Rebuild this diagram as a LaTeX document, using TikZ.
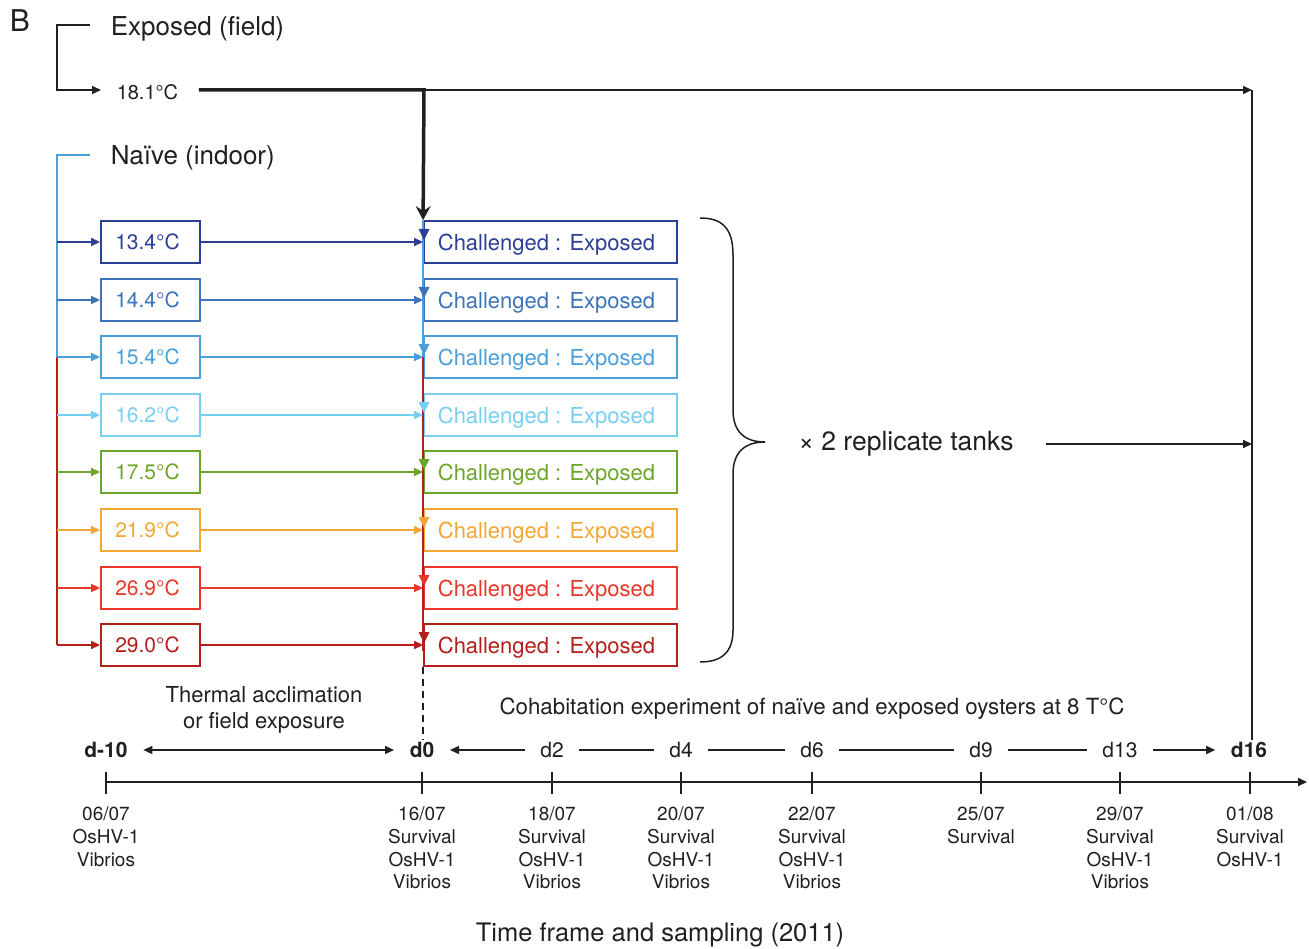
\documentclass[tikz,border=0pt]{standalone}
\usepackage{fontspec}
\setmainfont{TeX Gyre Heros}
\usetikzlibrary{arrows.meta}
\definecolor{cA}{RGB}{44,62,150}
\definecolor{cB}{RGB}{60,115,186}
\definecolor{cC}{RGB}{74,159,219}
\definecolor{cD}{RGB}{120,207,242}
\definecolor{cE}{RGB}{109,165,42}
\definecolor{cF}{RGB}{244,167,54}
\definecolor{cG}{RGB}{232,54,42}
\definecolor{cH}{RGB}{179,31,27}
\definecolor{ink}{RGB}{35,31,32}
\tikzset{
  arr/.style={-{Triangle[length=9pt,width=8pt]}},
  tempbox/.style={draw, line width=1.8pt, minimum width=99pt, minimum height=42pt, inner sep=0pt, font=\fontsize{21}{25}\selectfont},
  chbox/.style={draw, line width=1.8pt, minimum width=253pt, minimum height=42pt, inner sep=0pt, font=\fontsize{22}{26}\selectfont},
  tl/.style={font=\fontsize{21}{25}\selectfont, inner xsep=15pt, inner ysep=2pt, text=ink},
  datel/.style={anchor=north, align=center, font=\fontsize{19}{22.7}\selectfont, inner sep=0pt, text=ink},
  head/.style={anchor=west, inner sep=0pt, font=\fontsize{26}{30}\selectfont, text=ink},
}
\begin{document}
\begin{tikzpicture}[x=1pt,y=-1pt,line width=1.5pt]
\useasboundingbox (0,0) rectangle (1309,949);
\fill[white] (0,0) rectangle (1309,949);

% panel letter and group headings
\node[anchor=west, inner sep=0pt, font=\fontsize{30}{34}\selectfont, text=ink] (B) at (9,21) {B};
\node[head] (exp) at (110,29) {Exposed (field)};
\node[head] (nai) at (110,158) {Naïve (indoor)};
\node[anchor=west, inner sep=0pt, font=\fontsize{20}{24}\selectfont, text=ink] (e181) at (116,92) {18.1°C};

% exposed bracket
\coordinate (ex0) at (90,25);
\draw[ink] (ex0) -- (57,25) -- (57,90) [arr] -- ([xshift=-15pt]e181.west |- 57,90);

% rows
\foreach \ry/\rc/\rt [count=\i] in {242/cA/13.4,300/cB/14.4,357/cC/15.4,415/cD/16.2,472/cE/17.5,530/cF/21.9,588/cG/26.9,645/cH/29.0}{
  \node[tempbox, draw=\rc, text=\rc] (t\i) at (150.5,\ry) {\hspace{-6pt}\rt°C};
  \node[chbox, draw=\rc, text=\rc] (ch\i) at (550.5,\ry) {\raisebox{-2.5pt}[\height][\depth]{\hspace{-8pt}Challenged : Exposed}};
}

% naive bracket
\coordinate (na0) at (90,155);
\draw[cC] (na0) -- (57,155) -- (57,357);
\draw[cH] (57,357) -- (57,645);

% vertical distribution line at d0
\draw[cC, line width=2.4pt] (ch1.north west) -- (ch3.west);
\draw[cH, line width=2.6pt] (ch3.west) -- ([yshift=-6pt]ch8.west);

\foreach \ry/\rc [count=\i] in {242/cA,300/cB,357/cC,415/cD,472/cE,530/cF,588/cG,645/cH}{
  \draw[arr, \rc] (57,\ry) -- (t\i.west);
  \draw[arr, \rc] (t\i.east) -- (ch\i.west);
  \fill[\rc] (418.5,\ry-13) -- (429.5,\ry-13) -- (424,\ry-2) -- cycle;
}

% exposed path to d0 and to d16
\coordinate (j) at (424,90);
\coordinate (k) at (1252,90);
\draw[ink, line width=3.5pt, -{Stealth[length=14pt,width=15pt,inset=5pt]}] ([xshift=20pt]e181.east |- j) -- (j) -- (ch1.north west);
\draw[ink, arr] (j) -- (k);

% brace and replicates
\draw[ink] (700,218) .. controls (722,218) and (733,228) .. (733,255) -- (733,410)
  .. controls (733,432) and (745,442) .. (765,442)
  .. controls (745,442) and (733,452) .. (733,474) -- (733,630)
  .. controls (733,652) and (722,662) .. (700,662);
\node[font=\fontsize{26.5}{30}\selectfont, text=ink, inner xsep=32pt] (rep) at (906,444) {× 2 replicate tanks};
\draw[ink, arr] (rep.east) -- (rep.east -| k);

% timeline day labels
\node[tl, font=\fontsize{21}{25}\selectfont\bfseries] (dm10) at (106,750) {d-10};
\node[tl, font=\fontsize{21}{25}\selectfont\bfseries] (d0) at (422,750) {d0};
\node[tl] (d2) at (552,750) {d2};
\node[tl] (d4) at (681,750) {d4};
\node[tl] (d6) at (812,750) {d6};
\node[tl] (d9) at (981,750) {d9};
\node[tl] (d13) at (1120,750) {d13};
\node[tl, font=\fontsize{21}{25}\selectfont\bfseries] (d16) at (1249,750) {d16};

\draw[ink] (k) -- (k |- d16.north);
\draw[ink, dash pattern=on 7pt off 5pt, line width=1.5pt] (ch8.south west) -- (ch8.south west |- d0.north);

\draw[ink, {Triangle[length=9pt,width=8pt]}-{Triangle[length=9pt,width=8pt]}] (dm10) -- (d0);
\draw[ink, arr] (d2) -- (d0);
\draw[ink] (d2) -- (d4);
\draw[ink] (d4) -- (d6);
\draw[ink] (d6) -- (d9);
\draw[ink] (d9) -- (d13);
\draw[ink, arr] (d13) -- (d16);

\node[align=center, font=\fontsize{22}{26}\selectfont, text=ink] (therm) at (264,710) {Thermal acclimation\\or field exposure};
\node[font=\fontsize{22.3}{26}\selectfont, text=ink] (cohab) at (812,709) {Cohabitation experiment of naïve and exposed oysters at 8 T°C};

% axis
\coordinate (ax0) at (106,782);
\coordinate (ax1) at (1307,782);
\draw[ink, line width=2pt, arr] (ax0) -- (ax1);
\foreach \x in {106,422,552,681,812,981,1120,1250}
  \draw[ink, line width=2pt] (\x,772) -- (\x,794);

% sampling labels
\node[datel] (s1) at (106,806) {06/07\\OsHV-1\\Vibrios};
\node[datel] (s2) at (422,806) {16/07\\Survival\\OsHV-1\\Vibrios};
\node[datel] (s3) at (552,806) {18/07\\Survival\\OsHV-1\\Vibrios};
\node[datel] (s4) at (681,806) {20/07\\Survival\\OsHV-1\\Vibrios};
\node[datel] (s5) at (812,806) {22/07\\Survival\\OsHV-1\\Vibrios};
\node[datel] (s6) at (981,806) {25/07\\Survival};
\node[datel] (s7) at (1120,806) {29/07\\Survival\\OsHV-1\\Vibrios};
\node[datel] (s8) at (1250,806) {01/08\\Survival\\OsHV-1};

\node[font=\fontsize{25.5}{30}\selectfont, text=ink] (title) at (660,935) {Time frame and sampling (2011)};
\end{tikzpicture}
\end{document}
